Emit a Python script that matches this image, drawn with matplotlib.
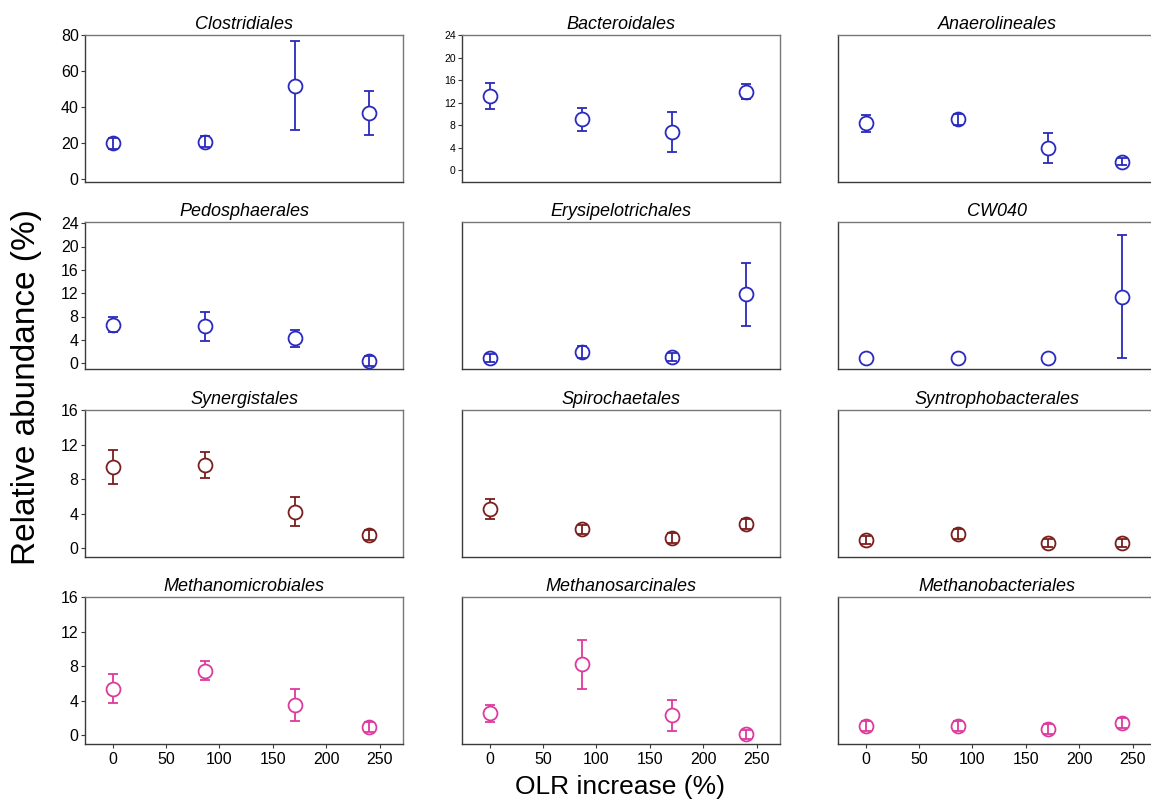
"""Relative abundance of dominant orders versus OLR increase (12-panel grid)."""

import matplotlib

matplotlib.use("Agg")
import matplotlib.pyplot as plt

plt.rcParams["font.family"] = ["Liberation Sans", "DejaVu Sans"]

OLR = [0, 86, 171, 240]
X_TICKS = [0, 50, 100, 150, 200, 250]

ORDERS = [
    "Clostridiales", "Bacteroidales", "Anaerolineales",
    "Pedosphaerales", "Erysipelotrichales", "CW040",
    "Synergistales", "Spirochaetales", "Syntrophobacterales",
    "Methanomicrobiales", "Methanosarcinales", "Methanobacteriales",
]

MEANS = [
    [19.8, 20.7, 51.8, 36.6],
    [13.2, 9.0, 6.8, 13.9],
    [8.3, 9.0, 3.9, 1.5],
    [6.6, 6.3, 4.3, 0.4],
    [0.9, 1.9, 1.0, 11.8],
    [0.9, 0.9, 0.9, 11.4],
    [9.45, 9.6, 4.25, 1.55],
    [4.5, 2.2, 1.2, 2.8],
    [0.95, 1.65, 0.6, 0.6],
    [5.4, 7.5, 3.5, 0.95],
    [2.55, 8.2, 2.3, 0.1],
    [1.1, 1.05, 0.75, 1.4],
]

SDS = [
    [3.0, 3.0, 24.7, 12.4],
    [2.35, 2.1, 3.6, 1.35],
    [1.5, 1.0, 2.65, 0.6],
    [1.25, 2.55, 1.45, 0.9],
    [0.7, 1.1, 0.7, 5.4],
    [0.0, 0.0, 0.0, 10.5],
    [1.95, 1.5, 1.65, 0.6],
    [1.15, 0.55, 0.55, 0.6],
    [0.5, 0.6, 0.5, 0.5],
    [1.65, 1.15, 1.85, 0.6],
    [0.95, 2.85, 1.75, 0.5],
    [0.6, 0.6, 0.6, 0.6],
]

ROW_COLORS = ["#2a2abd", "#2a2abd", "#7a1e1e", "#dc3a9e"]

# y-ranges / ticks per panel (None = hidden tick labels)
YLIMS = [
    (-1.7, 80), (-2.1, 24), (-2.1, 24),
    (-1.0, 24.2), (-1.0, 24.2), (-1.0, 24.2),
    (-1.0, 16), (-1.0, 16), (-1.0, 16),
    (-1.0, 16), (-1.0, 16), (-1.0, 16),
]
YTICKS = [
    [0, 20, 40, 60, 80], [0, 4, 8, 12, 16, 20, 24], None,
    [0, 4, 8, 12, 16, 20, 24], None, None,
    [0, 4, 8, 12, 16], None, None,
    [0, 4, 8, 12, 16], None, None,
]

W, H = 1151, 809
COL_LEFT = [85, 462, 838]
AX_W = 318
ROW_TOP = [35, 222, 410, 597]
AX_H = 147
MS = 10          # marker size (pt)
CAP = 3.8        # cap half-width (pt)


def main():
    fig = plt.figure(figsize=(W / 100, H / 100), dpi=100)
    radius_px = MS * 100 / 72 / 2

    for i, name in enumerate(ORDERS):
        r, c = divmod(i, 3)
        ax = fig.add_axes([
            COL_LEFT[c] / W,
            1 - (ROW_TOP[r] + AX_H) / H,
            AX_W / W,
            AX_H / H,
        ])
        color = ROW_COLORS[r]
        lo, hi = YLIMS[i]
        px_per_unit = AX_H / (hi - lo)

        # open circles
        ax.plot(OLR, MEANS[i], "o", ms=MS, mfc="white", mec=color,
                mew=1.3, zorder=2)

        for x, m, s in zip(OLR, MEANS[i], SDS[i]):
            if s <= 0:
                continue
            # stem behind the circle, caps on top of it
            ax.errorbar([x], [m], yerr=[s], fmt="none", ecolor=color,
                        elinewidth=1.3, capsize=0, zorder=1)
            ax.errorbar([x], [m], yerr=[s], fmt="none", ecolor=color,
                        elinewidth=0, capsize=CAP, capthick=1.3, zorder=3)
            # short bars fully inside the circle stay visible
            if s * px_per_unit < radius_px:
                ax.vlines(x, m - s, m + s, color=color, lw=1.3, zorder=3)

        ax.set_xlim(-26, 272)
        ax.set_ylim(lo, hi)
        ax.set_title(name, fontsize=13, style="italic", pad=4)

        for side in ["left", "bottom"]:
            ax.spines[side].set_color("#3a3a3a")
            ax.spines[side].set_linewidth(1.0)
        for side in ["top", "right"]:
            ax.spines[side].set_color("#777777")
            ax.spines[side].set_linewidth(1.0)

        if YTICKS[i] is None:
            ax.set_yticks([])
        else:
            ax.set_yticks(YTICKS[i])
            size = 7.5 if i == 1 else 11.5
            ax.tick_params(axis="y", labelsize=size, length=3, width=0.8,
                           pad=1.5, color="#3a3a3a")

        if r == 3:
            ax.set_xticks(X_TICKS)
            ax.tick_params(axis="x", labelsize=11.5, length=3, width=0.8,
                           pad=3, color="#3a3a3a")
        else:
            ax.set_xticks([])

    fig.text(27 / W, 1 - 387 / H, "Relative abundance (%)", rotation=90,
             fontsize=24, ha="center", va="center")
    fig.text(620 / W, 1 - 787 / H, "OLR increase (%)", fontsize=19,
             ha="center", va="center")

    fig.savefig("out.png", dpi=100)
    plt.close(fig)


if __name__ == "__main__":
    main()
